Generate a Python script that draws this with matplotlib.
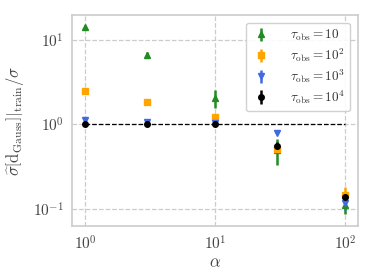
import numpy as np
import matplotlib
matplotlib.use("Agg")
import matplotlib.pyplot as plt

# Data
alpha = [1, 3, 10, 30, 100]

sig_10 = [14.2, 6.7, 2.05, 0.50, 0.113]
err_10 = [0.4, 0.5, 0.5, 0.17, 0.025]

sig_1e2 = [2.50, 1.85, 1.24, 0.51, 0.145]
err_1e2 = [0.05, 0.04, 0.04, 0.04, 0.035]

sig_1e3 = [1.12, 1.08, 1.05, 0.80, 0.117]
err_1e3 = [0.02, 0.02, 0.02, 0.03, 0.02]

sig_1e4 = [1.0, 1.0, 1.0, 0.55, 0.14]
err_1e4 = [0.01, 0.01, 0.01, 0.07, 0.015]

labels = [r"$\tau_{\rm obs}=10$", r"$\tau_{\rm obs}=10^2$",
          r"$\tau_{\rm obs}=10^3$", r"$\tau_{\rm obs}=10^4$"]

plt.rcParams["mathtext.fontset"] = "cm"
plt.rcParams["font.family"] = "serif"
plt.rcParams["font.serif"] = ["cmr10"]
plt.rcParams["axes.formatter.use_mathtext"] = True

fig, ax = plt.subplots(figsize=(3.74, 2.8), dpi=100)

series = [
    (sig_10, err_10, "^", "forestgreen"),
    (sig_1e2, err_1e2, "s", "orange"),
    (sig_1e3, err_1e3, "v", "royalblue"),
    (sig_1e4, err_1e4, "o", "black"),
]
for (y, e, m, c), lab in zip(series, labels):
    ax.errorbar(alpha, y, yerr=e, fmt=m, color=c, ms=4.0, elinewidth=1.8,
                capsize=0, label=lab, zorder=3)

# reference line at 1
ax.plot([alpha[0], alpha[-1]], [1, 1], "k--", lw=0.9, zorder=2)

ax.set_xscale("log")
ax.set_yscale("log")
ax.set_ylim(0.063, 19.8)
ax.grid(True, which="major", ls="--", color="#cccccc", lw=0.9)
ax.minorticks_off()
ax.tick_params(length=0, labelsize=11, colors="#444444", pad=6)
for s in ax.spines.values():
    s.set_color("#cccccc")
    s.set_linewidth(1.2)

ax.set_xlabel(r"$\alpha$", fontsize=12, color="#444444", labelpad=2)
ax.set_ylabel(r"$\widehat{\sigma}\left[\mathrm{d}_{\rm Gauss}\right]|_{\rm train}/\sigma$",
              fontsize=12, color="#444444")

leg = ax.legend(loc="upper right", fontsize=9.5, handletextpad=1.5,
                borderpad=0.4, labelspacing=0.25, handlelength=1.4,
                borderaxespad=0.6, framealpha=0.9)
leg.get_frame().set_edgecolor("#cccccc")
for t in leg.get_texts():
    t.set_color("#333333")

fig.subplots_adjust(left=0.193, right=0.957, top=0.947, bottom=0.193)
fig.savefig("out.png", dpi=100)
